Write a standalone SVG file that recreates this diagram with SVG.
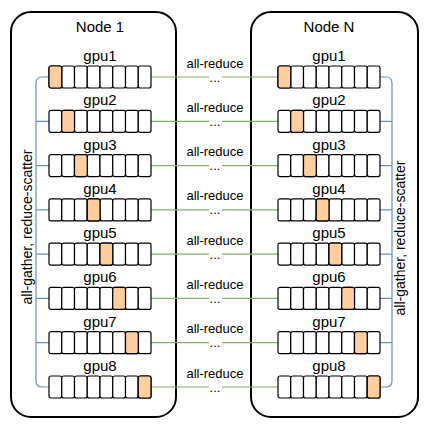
<svg xmlns="http://www.w3.org/2000/svg" xmlns:xlink="http://www.w3.org/1999/xlink" width="428" height="434" viewBox="0 0 428 434">
<style>
text{font-family:"Liberation Sans",Arial,Helvetica,sans-serif;fill:#000}
.box{fill:#fff;stroke:#000;stroke-width:2}
.title{font-size:15px;text-anchor:middle}
.lbl{font-size:15px;text-anchor:middle}
.cell{fill:#fff;stroke:#000;stroke-width:1.2}
.hl{fill:#FFCE9F;stroke:#000;stroke-width:1.2}
.green{fill:none;stroke:#82B366;stroke-width:1.2}
.blue{fill:none;stroke:#6C8EBF;stroke-width:1.2}
.ar{font-size:13px;text-anchor:middle}
.side{font-size:14px;text-anchor:middle}
</style>
<defs>
<g id="bar">
<rect class="cell" x="0" y="0" width="12.75" height="22" rx="2"/>
<rect class="cell" x="12.75" y="0" width="12.75" height="22" rx="2"/>
<rect class="cell" x="25.5" y="0" width="12.75" height="22" rx="2"/>
<rect class="cell" x="38.25" y="0" width="12.75" height="22" rx="2"/>
<rect class="cell" x="51" y="0" width="12.75" height="22" rx="2"/>
<rect class="cell" x="63.75" y="0" width="12.75" height="22" rx="2"/>
<rect class="cell" x="76.5" y="0" width="12.75" height="22" rx="2"/>
<rect class="cell" x="89.25" y="0" width="12.75" height="22" rx="2"/>
</g>
</defs>
<rect width="428" height="434" fill="#fff"/>
<g id="node1">
<rect class="box" x="11" y="12" width="165" height="405" rx="20"/>
<text class="title" x="100" y="31.5">Node 1</text>
</g>
<g id="nodeN">
<rect class="box" x="251" y="12" width="167" height="405" rx="20"/>
<text class="title" x="329" y="31.5">Node N</text>
</g>
<g id="connectors">
<path class="blue" d="M49,77 H42 Q36,77 36,83 V381 Q36,387 42,387 H49 M36,121.3 H49 M36,165.6 H49 M36,209.9 H49 M36,254.1 H49 M36,298.4 H49 M36,342.7 H49"/>
<path class="blue" d="M380,77 H386 Q392,77 392,83 V381 Q392,387 386,387 H380 M392,121.3 H380 M392,165.6 H380 M392,209.9 H380 M392,254.1 H380 M392,298.4 H380 M392,342.7 H380"/>
<text class="side" transform="translate(32,227) rotate(-90)">all-gather, reduce-scatter</text>
<text class="side" transform="translate(405,238) rotate(-90)">all-gather, reduce-scatter</text>
<g id="links">
<path class="green" d="M151,77 H209 M222,77 H278"/>
<text class="ar" x="215" y="67.5">all-reduce</text><text class="ar" x="215" y="81.5">...</text>
<path class="green" d="M151,121.3 H209 M222,121.3 H278"/>
<text class="ar" x="215" y="111.8">all-reduce</text><text class="ar" x="215" y="125.8">...</text>
<path class="green" d="M151,165.6 H209 M222,165.6 H278"/>
<text class="ar" x="215" y="156.1">all-reduce</text><text class="ar" x="215" y="170.1">...</text>
<path class="green" d="M151,209.9 H209 M222,209.9 H278"/>
<text class="ar" x="215" y="200.4">all-reduce</text><text class="ar" x="215" y="214.4">...</text>
<path class="green" d="M151,254.1 H209 M222,254.1 H278"/>
<text class="ar" x="215" y="244.6">all-reduce</text><text class="ar" x="215" y="258.6">...</text>
<path class="green" d="M151,298.4 H209 M222,298.4 H278"/>
<text class="ar" x="215" y="288.9">all-reduce</text><text class="ar" x="215" y="302.9">...</text>
<path class="green" d="M151,342.7 H209 M222,342.7 H278"/>
<text class="ar" x="215" y="333.2">all-reduce</text><text class="ar" x="215" y="347.2">...</text>
<path class="green" d="M151,387 H209 M222,387 H278"/>
<text class="ar" x="215" y="377.5">all-reduce</text><text class="ar" x="215" y="391.5">...</text>
</g>
</g>
<g id="n1-gpu1" transform="translate(49,66)"><text class="lbl" x="51" y="-5">gpu1</text><use xlink:href="#bar"/><rect class="hl" x="0" y="0" width="12.75" height="22" rx="2"/></g>
<g id="n1-gpu2" transform="translate(49,110.3)"><text class="lbl" x="51" y="-5">gpu2</text><use xlink:href="#bar"/><rect class="hl" x="12.75" y="0" width="12.75" height="22" rx="2"/></g>
<g id="n1-gpu3" transform="translate(49,154.6)"><text class="lbl" x="51" y="-5">gpu3</text><use xlink:href="#bar"/><rect class="hl" x="25.5" y="0" width="12.75" height="22" rx="2"/></g>
<g id="n1-gpu4" transform="translate(49,198.9)"><text class="lbl" x="51" y="-5">gpu4</text><use xlink:href="#bar"/><rect class="hl" x="38.25" y="0" width="12.75" height="22" rx="2"/></g>
<g id="n1-gpu5" transform="translate(49,243.1)"><text class="lbl" x="51" y="-5">gpu5</text><use xlink:href="#bar"/><rect class="hl" x="51" y="0" width="12.75" height="22" rx="2"/></g>
<g id="n1-gpu6" transform="translate(49,287.4)"><text class="lbl" x="51" y="-5">gpu6</text><use xlink:href="#bar"/><rect class="hl" x="63.75" y="0" width="12.75" height="22" rx="2"/></g>
<g id="n1-gpu7" transform="translate(49,331.7)"><text class="lbl" x="51" y="-5">gpu7</text><use xlink:href="#bar"/><rect class="hl" x="76.5" y="0" width="12.75" height="22" rx="2"/></g>
<g id="n1-gpu8" transform="translate(49,376)"><text class="lbl" x="51" y="-5">gpu8</text><use xlink:href="#bar"/><rect class="hl" x="89.25" y="0" width="12.75" height="22" rx="2"/></g>
<g id="nN-gpu1" transform="translate(278,66)"><text class="lbl" x="51" y="-5">gpu1</text><use xlink:href="#bar"/><rect class="hl" x="0" y="0" width="12.75" height="22" rx="2"/></g>
<g id="nN-gpu2" transform="translate(278,110.3)"><text class="lbl" x="51" y="-5">gpu2</text><use xlink:href="#bar"/><rect class="hl" x="12.75" y="0" width="12.75" height="22" rx="2"/></g>
<g id="nN-gpu3" transform="translate(278,154.6)"><text class="lbl" x="51" y="-5">gpu3</text><use xlink:href="#bar"/><rect class="hl" x="25.5" y="0" width="12.75" height="22" rx="2"/></g>
<g id="nN-gpu4" transform="translate(278,198.9)"><text class="lbl" x="51" y="-5">gpu4</text><use xlink:href="#bar"/><rect class="hl" x="38.25" y="0" width="12.75" height="22" rx="2"/></g>
<g id="nN-gpu5" transform="translate(278,243.1)"><text class="lbl" x="51" y="-5">gpu5</text><use xlink:href="#bar"/><rect class="hl" x="51" y="0" width="12.75" height="22" rx="2"/></g>
<g id="nN-gpu6" transform="translate(278,287.4)"><text class="lbl" x="51" y="-5">gpu6</text><use xlink:href="#bar"/><rect class="hl" x="63.75" y="0" width="12.75" height="22" rx="2"/></g>
<g id="nN-gpu7" transform="translate(278,331.7)"><text class="lbl" x="51" y="-5">gpu7</text><use xlink:href="#bar"/><rect class="hl" x="76.5" y="0" width="12.75" height="22" rx="2"/></g>
<g id="nN-gpu8" transform="translate(278,376)"><text class="lbl" x="51" y="-5">gpu8</text><use xlink:href="#bar"/><rect class="hl" x="89.25" y="0" width="12.75" height="22" rx="2"/></g>
</svg>
